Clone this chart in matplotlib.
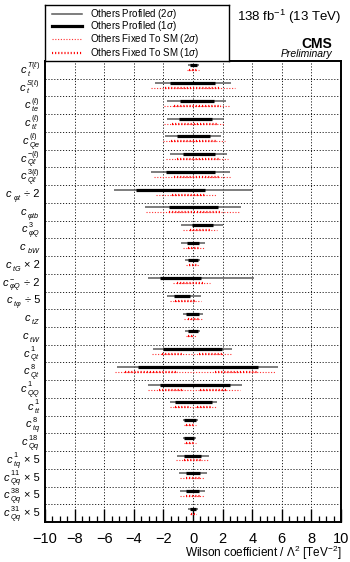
import matplotlib

matplotlib.use("Agg")
import matplotlib.pyplot as plt  # noqa: E402
import numpy as np  # noqa: E402
from matplotlib.ticker import MultipleLocator  # noqa: E402
from matplotlib.transforms import blended_transform_factory, offset_copy  # noqa: E402

plt.rcParams["font.family"] = ["Liberation Sans", "DejaVu Sans"]
plt.rcParams["mathtext.fontset"] = "custom"
plt.rcParams["mathtext.rm"] = "Liberation Sans"
plt.rcParams["mathtext.it"] = "Liberation Sans:italic"
plt.rcParams["mathtext.bf"] = "Liberation Sans:bold"
plt.rcParams["mathtext.fallback"] = "stixsans"

# Wilson coefficients, top to bottom: c_{sub}^{sup} + scale suffix
label_sub = [r"t", r"t", r"te", r"t\ell", r"Qe", r"Q\ell", r"Q\ell",
             r"\varphi t", r"\varphi tb", r"\varphi Q", r"bW", r"tG",
             r"\varphi Q", r"t\varphi", r"tZ", r"tW", r"Qt", r"Qt", r"QQ",
             r"tt", r"tq", r"Qq", r"tq", r"Qq", r"Qq", r"Qq"]
label_sup = [r"T(\ell)", r"S(\ell)", r"(\ell)", r"(\ell)", r"(\ell)",
             r"-(\ell)", r"3(\ell)", "", "", "3", "", "", "-", "", "", "",
             "1", "8", "1", "1", "8", "18", "1", "11", "38", "31"]
label_suffix = ["", "", "", "", "", "", "", "÷ 2", "", "", "", "× 2",
                "÷ 2", "÷ 5", "", "", "", "", "", "", "", "",
                "× 5", "× 5", "× 5", "× 5"]

# others profiled
prof2_lo = [-0.35, -2.58, -1.75, -1.75, -1.87, -1.53, -2.81, -5.35, -3.21,
            -0.79, -0.79, -0.54, -3.03, -1.75, -0.70, -0.52, -2.72, -5.15,
            -3.01, -1.55, -0.67, -0.67, -1.08, -0.97, -0.85, -0.36]
prof2_hi = [0.38, 2.58, 2.22, 2.11, 1.91, 2.27, 2.52, 4.00, 3.24,
            2.02, 0.79, 0.49, 4.13, 0.56, 0.67, 0.49, 2.65, 5.75,
            3.28, 1.60, 0.31, 0.22, 1.06, 0.94, 0.83, 0.31]
prof1_lo = [-0.20, -1.53, -0.90, -0.92, -1.08, -0.67, -1.80, -3.82, -1.64,
            -0.07, -0.40, -0.36, -2.20, -1.30, -0.45, -0.36, -2.00, -3.75,
            -2.22, -1.21, -0.58, -0.58, -0.58, -0.45, -0.45, -0.18]
prof1_hi = [0.25, 1.50, 1.39, 1.30, 1.15, 1.50, 1.50, 0.79, 1.69,
            1.35, 0.38, 0.31, 0.56, -0.18, 0.38, 0.31, 1.98, 4.40,
            2.49, 1.26, 0.22, 0.09, 0.54, 0.45, 0.40, 0.22]

# others fixed to SM
fix2_lo = [-0.40, -2.83, -1.93, -1.93, -2.04, -1.80, -2.65, -2.47, -3.15,
           -0.67, -0.67, -0.45, -1.35, -1.57, -0.58, -0.47, -2.76, -5.26,
           -3.01, -1.55, -0.63, -0.63, -1.12, -0.90, -0.85, -0.22]
fix2_hi = [0.38, 2.81, 2.45, 2.16, 2.18, 2.34, 2.56, 1.57, 3.19,
           1.62, 0.72, 0.38, 1.12, 0.54, 0.60, 0.20, 2.54, 5.64,
           3.20, 1.55, 0.22, 0.22, 0.99, 0.83, 0.83, 0.22]
fix1_lo = [-0.25, -1.90, -1.30, -1.40, -1.50, -1.10, -1.30, -1.40, -1.64,
           -0.18, -0.35, -0.30, -1.08, -1.20, -0.35, -0.35, -2.11, -4.60,
           -2.27, -1.20, -0.50, -0.50, -0.60, -0.50, -0.45, -0.15]
fix1_hi = [0.25, 1.90, 1.90, 1.70, 1.60, 1.80, 1.84, 0.83, 1.85,
           1.17, 0.40, 0.25, 0.72, 0.15, 0.40, 0.10, -0.76, -1.00,
           -0.60, -0.30, 0.10, 0.10, 0.60, 0.50, 0.45, 0.15]
# second 1 sigma interval where the fixed fit is split in two
fix1b_lo = [np.nan] * 16 + [0.43, 1.50, 0.47, 0.25] + [np.nan] * 6
fix1b_hi = [np.nan] * 16 + [2.00, 4.40, 2.38, 1.26] + [np.nan] * 6

n = len(label_sub)
y = np.arange(n)

fig = plt.figure(figsize=(3.5, 5.62), dpi=100)
ax = fig.add_axes([45 / 350, 1 - 522 / 562, 296 / 350, 461 / 562])

dot2 = (0, (1.0, 1.5))
dot1 = (0, (0.5, 0.9))
ax.hlines(y + 0.25, prof2_lo, prof2_hi, color="#5a5a5a", lw=1.1, zorder=3)
ax.hlines(y + 0.25, prof1_lo, prof1_hi, color="black", lw=2.3, zorder=4)
ax.hlines(y + 0.53, fix2_lo, fix2_hi, color="#ff3030", lw=0.8,
          linestyles=[dot2], zorder=3)
ax.hlines(y + 0.53, fix1_lo, fix1_hi, color="red", lw=1.6,
          linestyles=[dot1], zorder=4)
ax.hlines(y + 0.53, fix1b_lo, fix1b_hi, color="red", lw=1.6,
          linestyles=[dot1], zorder=4)

ax.set_xlim(-10, 10)
ax.set_ylim(n, 0)
ax.set_yticks([])
ax.set_yticks(np.arange(1, n), minor=True)
ax.tick_params(axis="y", which="both", length=0)

ax.xaxis.set_major_locator(MultipleLocator(2))
ax.xaxis.set_minor_locator(MultipleLocator(0.5))
ax.tick_params(axis="x", which="major", direction="in", length=9.5,
               width=1.0, labelsize=10.5, pad=7)
ax.tick_params(axis="x", which="minor", direction="in", length=4, width=0.9)
ax.set_xticks(range(-10, 11, 2))
ax.set_xticklabels([f"{v:d}".replace("-", "\u2212")
                    for v in range(-10, 11, 2)])

ax.grid(axis="x", which="major", color="#222222", lw=0.7,
        linestyle=(0, (1.2, 1.8)))
ax.grid(axis="y", which="minor", color="#222222", lw=0.7,
        linestyle=(0, (1.2, 1.8)))
ax.set_axisbelow(True)
for s in ax.spines.values():
    s.set_linewidth(1.4)

# row labels built ROOT-style: big c, small stacked sub/superscript
base_tr = blended_transform_factory(ax.transAxes, ax.transData)
renderer = fig.canvas.get_renderer()


def _place(t, dx, dy):
    t.set_transform(offset_copy(base_tr, fig=fig, x=dx, y=dy, units="dots"))


for i in range(n):
    yc = i + 0.5
    t_c = ax.text(0, yc, "c", fontsize=8, style="italic", va="baseline")
    t_sub = ax.text(0, yc, f"${label_sub[i]}$", fontsize=5.2, va="baseline")
    w_c = t_c.get_window_extent(renderer).width
    w_scr = t_sub.get_window_extent(renderer).width
    t_sup = None
    if label_sup[i]:
        t_sup = ax.text(0, yc, f"${label_sup[i]}$", fontsize=5.2,
                        va="baseline")
        w_scr = max(w_scr, t_sup.get_window_extent(renderer).width)
    t_suf = None
    w_suf = 0
    if label_suffix[i]:
        t_suf = ax.text(0, yc, label_suffix[i], fontsize=8, va="baseline")
        w_suf = t_suf.get_window_extent(renderer).width + 3
    x0 = -5 - (w_c + 0.8 + w_scr + w_suf)
    _place(t_c, x0, -3)
    _place(t_sub, x0 + w_c + 0.8, -5.8)
    if t_sup is not None:
        _place(t_sup, x0 + w_c + 0.8, 2.6)
    if t_suf is not None:
        _place(t_suf, x0 + w_c + 0.8 + w_scr + 3, -3)

fig.text(341 / 350, 1 - 553 / 562,
         r"Wilson coefficient / $\Lambda^{2}$ [TeV$^{-2}$]",
         fontsize=8.5, ha="right", va="center")

# legend box
lax = fig.add_axes([45 / 350, 1 - 61 / 562, 184 / 350, 56 / 562])
lax.set_xlim(0, 1)
lax.set_ylim(1, 0)
lax.set_xticks([])
lax.set_yticks([])
for s in lax.spines.values():
    s.set_linewidth(1.0)
leg_y = [0.155, 0.37, 0.605, 0.85]
leg_txt = ["Others Profiled (2$\\sigma$)", "Others Profiled (1$\\sigma$)",
           "Others Fixed To SM (2$\\sigma$)", "Others Fixed To SM (1$\\sigma$)"]
leg_sty = [dict(color="#5a5a5a", lw=1.1), dict(color="black", lw=2.3),
           dict(color="#ff3030", lw=0.8, ls=dot2),
           dict(color="red", lw=1.6, ls=dot1)]
for ly, txt, sty in zip(leg_y, leg_txt, leg_sty):
    lax.plot([0.04, 0.2], [ly, ly], **sty)
    lax.text(0.245, ly, txt, fontsize=7, va="center", ha="left")

fig.text(341 / 350, 1 - 17 / 562, r"138 fb$^{-1}$ (13 TeV)", fontsize=9.5,
         ha="right", va="center")
fig.text(332 / 350, 1 - 44 / 562, "CMS", fontsize=10, fontweight="bold",
         ha="right", va="center")
fig.text(332 / 350, 1 - 54 / 562, "Preliminary", fontsize=7.5,
         style="italic", ha="right", va="center")

fig.savefig("out.png", dpi=100)
